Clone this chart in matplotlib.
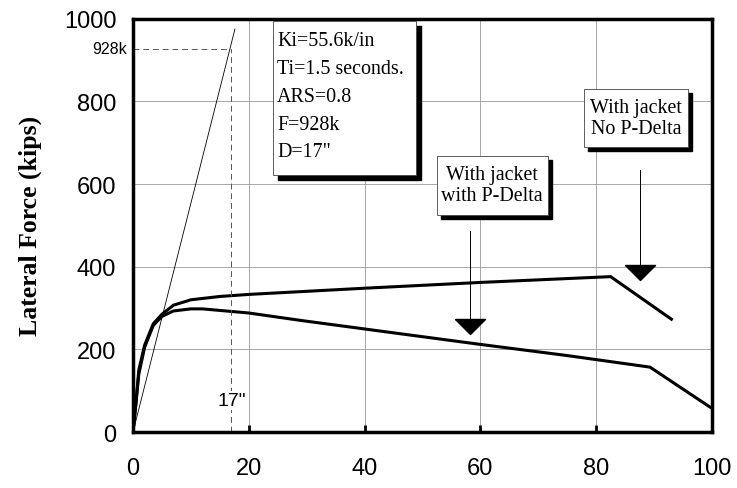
import matplotlib.pyplot as plt
from matplotlib.patches import FancyBboxPatch

# displacement (in) vs lateral force (kips)
no_pd_x = [0, 0.5, 1, 2, 3.5, 5, 7, 10, 15, 20, 40, 60, 82.5, 93]
no_pd_y = [0, 70, 150, 210, 262, 285, 307, 320, 328, 333, 348, 362, 376, 273]

pd_x = [0, 0.5, 1, 2, 3.5, 5, 7, 10, 12, 20, 29, 45, 60, 75, 89.3, 99.7]
pd_y = [0, 70, 140, 205, 258, 280, 293, 298, 298, 288, 270, 240, 212, 185, 157, 60]

# initial stiffness line
ki_x = [0, 17.6]
ki_y = [0, 975]

F_design = 928
D_design = 17

info_lines = ['Ki=55.6k/in', 'Ti=1.5 seconds.', 'ARS=0.8', 'F=928k', 'D=17"']

# arrow (x, line top, triangle top)
arrow_pd = (58.2, 487, 274)
arrow_nopd = (87.6, 633, 403)

fig = plt.figure(figsize=(7.37, 4.89), dpi=100)
ax = fig.add_axes([0.1805, 0.1145, 0.7855, 0.845])

ax.plot(ki_x, ki_y, color='black', lw=0.6)
ax.plot(no_pd_x, no_pd_y, color='black', lw=2.2, solid_joinstyle='miter')
ax.plot(pd_x, pd_y, color='black', lw=2.2, solid_joinstyle='miter')

# design point dashes
ax.plot([0, D_design], [F_design, F_design], color='#555555', lw=0.7, ls=(0, (6, 4)))
ax.plot([D_design, D_design], [0, F_design], color='#555555', lw=0.7, ls=(0, (6, 4)))
ax.text(-1.0, F_design, '928k', ha='right', va='center', fontsize=11.5,
        family='Liberation Sans', clip_on=False)
ax.text(D_design, 76, '17"', ha='center', va='center', fontsize=14,
        family='Liberation Sans',
        bbox=dict(facecolor='white', edgecolor='none', pad=0.5))

ax.set_xlim(0, 100)
ax.set_ylim(0, 1000)
ax.set_xticks([0, 20, 40, 60, 80, 100])
ax.set_yticks([0, 200, 400, 600, 800, 1000])
ax.grid(True, color='#999999', lw=0.6)
ax.set_axisbelow(True)
ax.tick_params(axis='x', direction='in', length=5, width=2, pad=18, labelsize=17)
ax.tick_params(axis='y', direction='in', length=0, pad=12, labelsize=17)
for lab in ax.get_xticklabels() + ax.get_yticklabels():
    lab.set_family('Liberation Sans')
for sp in ax.spines.values():
    sp.set_linewidth(2.5)

ax.set_ylabel('Lateral Force (kips)', fontsize=18.5, fontweight='bold',
              family='Liberation Serif', labelpad=16)


def shadow_box(x0, y0, x1, y1, off):
    # box coords in pixels of the 737x489 figure
    W, H = 737, 489
    sh = FancyBboxPatch(((x0 + off) / W, 1 - (y1 + off) / H), (x1 - x0) / W, (y1 - y0) / H,
                        boxstyle='square,pad=0', transform=fig.transFigure,
                        facecolor='black', edgecolor='black', zorder=5)
    bx = FancyBboxPatch((x0 / W, 1 - y1 / H), (x1 - x0) / W, (y1 - y0) / H,
                        boxstyle='square,pad=0', transform=fig.transFigure,
                        facecolor='white', edgecolor='#444444', lw=0.6, zorder=6)
    fig.patches.append(sh)
    fig.patches.append(bx)


shadow_box(273, 22, 416, 176, 5)
for i, t in enumerate(info_lines):
    fig.text(277 / 737, 1 - (42 + i * 27.7) / 489, t, ha='left', va='center',
             fontsize=14.4, family='Liberation Serif', zorder=7)

shadow_box(437, 157, 548, 216, 4)
fig.text(492 / 737, 1 - 186 / 489, 'With jacket\nwith P-Delta', ha='center', va='center',
         fontsize=14.4, family='Liberation Serif', linespacing=1.2, zorder=7)

shadow_box(584, 90, 688, 148, 4)
fig.text(636 / 737, 1 - 119 / 489, 'With jacket\nNo P-Delta', ha='center', va='center',
         fontsize=14.4, family='Liberation Serif', linespacing=1.2, zorder=7)

# arrows pointing to the curves: thin stem with a wide flat triangle head
tri = [(-1, 0), (1, 0), (0, -1), (-1, 0)]
for ax_x, top, head in [arrow_pd, arrow_nopd]:
    ax.plot([ax_x, ax_x], [top, head], color='black', lw=0.7)
    ax.plot(ax_x, head, marker=tri, color='black', markersize=21.6, clip_on=False)

fig.savefig('out.png', dpi=100)
